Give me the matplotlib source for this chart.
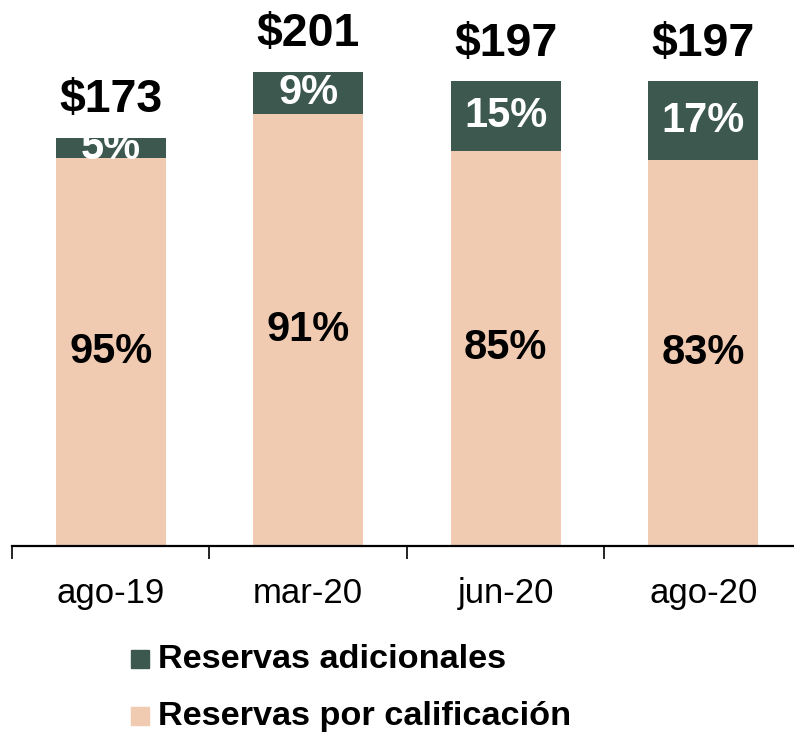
import matplotlib.pyplot as plt
from matplotlib.patches import Rectangle
import numpy as np

plt.rcParams['font.family'] = ['Liberation Sans', 'DejaVu Sans']

# data
periods = ['ago-19', 'mar-20', 'jun-20', 'ago-20']
totals = [173, 201, 197, 197]
pct_calif = [95, 91, 85, 83]      # reservas por calificacion
pct_adic = [5, 9, 15, 17]         # reservas adicionales
series_names = ['Reservas adicionales', 'Reservas por calificación']

green = '#3D594F'
peach = '#F0CBB2'

W, H = 794, 733
fig = plt.figure(figsize=(W / 100, H / 100), dpi=100)
# axis line at y=546 px, categories start at x=12 px
ax = fig.add_axes([12 / W, 1 - 546 / H, 790 / W, 546 / H])

x = np.arange(len(periods))
tot = np.array(totals, dtype=float)
bottom = tot * np.array(pct_calif) / 100
top = tot - bottom
bw = 0.555

ax.bar(x, bottom, bw, color=peach, zorder=2)
ax.bar(x, top, bw, bottom=bottom, color=green, zorder=2)

for i in range(len(x)):
    ax.text(x[i], bottom[i] / 2, '%d%%' % pct_calif[i], ha='center', va='center',
            fontsize=30, fontweight='bold', color='black', zorder=3)
    ax.text(x[i], bottom[i] + top[i] / 2, '%d%%' % pct_adic[i], ha='center', va='center',
            fontsize=30, fontweight='bold', color='white', zorder=3)
    ax.annotate('$%d' % totals[i], (x[i], tot[i]), xytext=(0, 27), textcoords='offset points',
                ha='center', va='center', fontsize=33.5, fontweight='bold', color='black')

ax.set_xlim(-0.5, 3.5)
ax.set_ylim(0, 546 / 2.36)
for s in ['top', 'right', 'left']:
    ax.spines[s].set_visible(False)
ax.spines['bottom'].set_linewidth(1.6)
ax.set_yticks([])

ax.set_xticks(np.arange(-0.5, 4, 1.0))
ax.set_xticklabels([])
ax.tick_params(axis='x', which='major', direction='out', length=9, width=1.2)
ax.set_xticks(x, minor=True)
ax.set_xticklabels(periods, minor=True, fontsize=25)
ax.tick_params(axis='x', which='minor', length=0, pad=22)

# legend
leg_colors = [green, peach]
leg_y = [660, 717]
for c, yy, name in zip(leg_colors, leg_y, series_names):
    fig.patches.append(Rectangle((131 / W, 1 - (yy + 8) / H), 18 / W, 18 / H,
                                 transform=fig.transFigure, color=c))
    fig.text(158 / W, 1 - yy / H, name, ha='left', va='center', fontsize=24.7,
             fontweight='bold')

fig.savefig('out.png', dpi=100)
